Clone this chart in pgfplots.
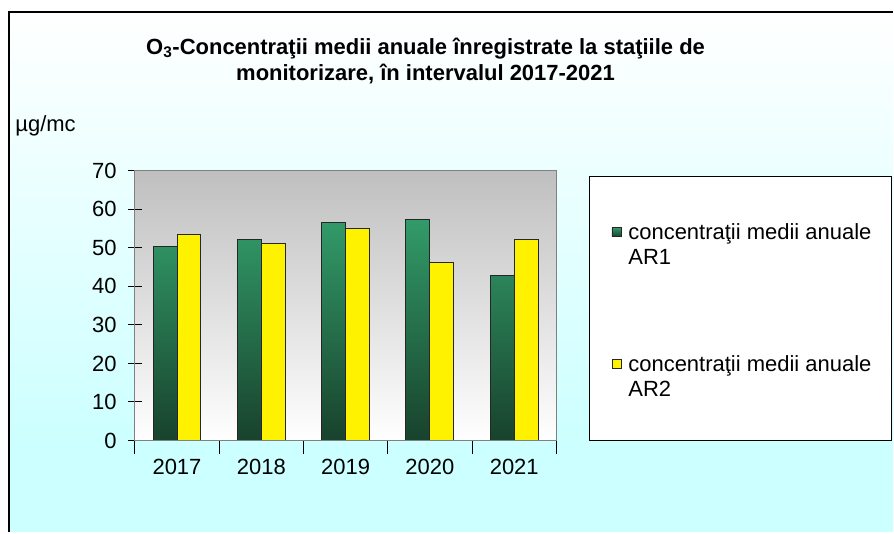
\documentclass[border=0pt]{standalone}
\usepackage{fontspec}
\setmainfont{Liberation Sans}
\usepackage{pgfplots}
\pgfplotsset{compat=1.18}
\definecolor{gtop}{RGB}{50,155,105}
\definecolor{gbot}{RGB}{24,66,44}
\definecolor{bgcyan}{RGB}{204,255,255}
\renewcommand{\arraystretch}{0.947}
\pgfplotsset{sqlegend/.style={legend image code/.code={\draw[##1, line width=0.6pt] (0pt,2.6pt) rectangle (6.75pt,9.4pt);}}}
\begin{document}
\fontsize{16.5pt}{19.8pt}\selectfont
\begin{tikzpicture}[font=\fontsize{16.5pt}{19.8pt}\selectfont]
\fill[white] (0,0) rectangle (670.5pt,399.75pt);
\shade[top color=white, bottom color=bgcyan] (6.75pt,66pt) rectangle (670.5pt,390.75pt);
\fill[bgcyan] (6.75pt,0) rectangle (670.5pt,66pt);
\draw[line width=1.5pt] (6.75pt,0) -- (6.75pt,390.75pt) -- (670.5pt,390.75pt);
\draw[black, fill=white, line width=0.75pt] (442.5pt,69pt) rectangle (669pt,267pt);
\begin{axis}[
 at={(101.25pt,69pt)}, anchor=south west,
 scale only axis, width=316.5pt, height=202.5pt,
 axis on top,
 xmin=-0.5, xmax=4.5, ymin=0, ymax=70,
 ytick={0,10,...,70},
 xtick={-0.5,0.5,...,4.5}, xticklabel=\empty,
 extra x ticks={0,1,2,3,4},
 extra x tick labels={2017,2018,2019,2020,2021},
 extra x tick style={major tick length=0pt, xticklabel style={yshift=-8.5pt}},
 yticklabel style={xshift=-3pt},
 xtick pos=bottom, ytick pos=left,
 tick align=center,
 major tick length=10pt,
 tick style={black, line width=0.75pt},
 axis line style={draw=black!50, line width=0.75pt},
 axis background/.style={top color=black!25, bottom color=white},
 ybar=0pt, bar width=18pt,
 /pgf/number format/assume math mode=true,
 tick label style={font=\fontsize{16.5pt}{19.8pt}\selectfont},
 title={O\textsubscript{3}-Concentraţii medii anuale înregistrate la staţiile de\\monitorizare, în intervalul 2017-2021},
 title style={align=center, font=\bfseries\fontsize{16.5pt}{19.5pt}\selectfont, at={(axis description cs:0.6896,1.464)}, anchor=north, inner sep=0pt},
 ylabel={µg/mc},
 ylabel style={rotate=-90, at={(axis description cs:-0.284,1.165)}, anchor=west, inner sep=0pt, font=\fontsize{16.5pt}{19.8pt}\selectfont},
 legend style={at={(axis description cs:1.1303,0.8093)}, anchor=north west, draw=none, fill=none, inner sep=0pt, row sep=83.25pt, font=\fontsize{16.5pt}{19.8pt}\selectfont, nodes={inner sep=0pt, anchor=base west}, /tikz/every odd column/.append style={column sep=5.25pt}},
]
\addplot[draw=black!85, line width=0.75pt, top color=gtop, bottom color=gbot, sqlegend]
  coordinates {(0,50.4)(1,52.1)(2,56.6)(3,57.3)(4,42.8)};
\addlegendentry{\begin{tabular}[t]{@{}l@{}}concentraţii medii anuale\\AR1\end{tabular}}
\addplot[draw=black!85, line width=0.75pt, fill=yellow, sqlegend]
  coordinates {(0,53.4)(1,51.1)(2,54.9)(3,46.2)(4,52.1)};
\addlegendentry{\begin{tabular}[t]{@{}l@{}}concentraţii medii anuale\\AR2\end{tabular}}
\draw[black, line width=0.75pt] (rel axis cs:0,1) -- (rel axis cs:0,0) -- (rel axis cs:1,0);
\end{axis}
\end{tikzpicture}
\end{document}
